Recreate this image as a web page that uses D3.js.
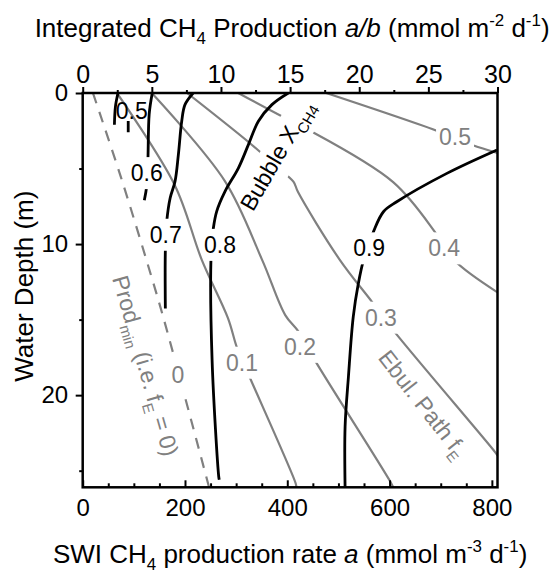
<!DOCTYPE html>
<html>
<head>
<meta charset="utf-8">
<script src="https://cdn.jsdelivr.net/npm/d3@7"></script>
<style>
  body { margin: 0; background: #fff; }
  svg { display: block; font-family: "Liberation Sans", Arial, sans-serif; }
</style>
</head>
<body>
<script>
// Axis domains and tick values
const rateMax = 811;            // SWI production rate axis (mmol m-3 d-1)
const integMax = 30;            // integrated production axis (mmol m-2 d-1)
const depthMax = 26.1;          // water depth (m)
const rateTicks = [0, 200, 400, 600, 800];
const rateMinorTicks = [50, 100, 150, 250, 300, 350, 450, 500, 550, 650, 700, 750];
const integTicks = [0, 5, 10, 15, 20, 25, 30];
const integMinorTicks = [2.5, 7.5, 12.5, 17.5, 22.5, 27.5];
const depthTicks = [0, 10, 20];
const depthMinorTicks = [5, 15, 25];

// Ebullition path fraction f_E contours: [rate a, depth]
const fE0 = [[20, 0], [75, 5.6], [133, 12], [158, 14.9], [240, 25.2], [247, 26.1]];
const fE1 = [[67, 0], [180, 6.1], [233, 11.06], [284, 14.9], [302, 16.9], [325, 18.7], [416, 25.8], [418, 26.1]];
const fE2 = [[135, 0], [278, 5.83], [351, 11.06], [396, 14.7], [422, 15.8], [454, 17.7], [601, 25.7], [607, 26.1]];
const fE3 = [[204, 0], [331, 3.44], [382, 4.97], [412, 5.87], [421, 6.56], [503, 11.06], [566, 13.84], [607, 15.7], [807, 23.8], [811, 24.0]];
const fE4 = [[304, 0], [392, 1.59], [431, 2.25], [607, 5.9], [693, 9.4], [726, 11.06], [811, 13.2]];
const fE5 = [[476, 0], [699, 2.58], [761.5, 3.44], [811, 3.97]];

// Bubble CH4 mole fraction contours: [rate a, depth]
const x05a = [[69, 0], [64, 0.9], [62, 2.1]];
const x05b = [[89, 1.85], [89, 2.6]];
const x06 = [[136, 0], [130, 1.4], [127.5, 4.45], [125, 6.2], [120.5, 7.1]];
const x07 = [[216, 0], [200, 0.77], [193.6, 1.87], [187, 4.09], [180.5, 5.85], [171, 6.95], [164.3, 8.5], [161.6, 10.4], [161.6, 14.26]];
const x08 = [[402, 0], [370, 0.77], [343.5, 1.87], [324, 3.42], [304.4, 4.97], [278.3, 6.51], [262, 7.83], [255.5, 8.94], [251, 10.81], [253, 17.7], [266, 25.4], [267, 25.6]];
const x09 = [[810, 3.77], [712, 5.32], [614, 7.2], [588, 7.86], [568.4, 9.19], [549, 11.06], [539, 12.6], [529, 14.8], [519.5, 18.8], [513, 22.1], [513, 26.1]];

const fELines = [
  { id: "fE0", pts: fE0, dashed: true },
  { id: "fE1", pts: fE1 }, { id: "fE2", pts: fE2 }, { id: "fE3", pts: fE3 },
  { id: "fE4", pts: fE4 }, { id: "fE5", pts: fE5 }
];
const xLines = [
  { id: "x05a", pts: x05a }, { id: "x05b", pts: x05b }, { id: "x06", pts: x06 },
  { id: "x07", pts: x07 }, { id: "x08", pts: x08 }, { id: "x09", pts: x09 }
];

// Contour labels, anchored at [rate a, depth]; "cuts" names the lines broken around the label
const fELabels = [
  { text: "0", at: [186, 18.68], cuts: ["fE0"] },
  { text: "0.1", at: [311.6, 17.85], cuts: ["fE1"] },
  { text: "0.2", at: [425, 16.8], cuts: ["fE2"] },
  { text: "0.3", at: [583, 14.87], cuts: ["fE3"] },
  { text: "0.4", at: [706.7, 10.28], cuts: ["fE4"] },
  { text: "0.5", at: [728, 2.89], cuts: ["fE5"] }
];
const xLabels = [
  { text: "0.5", at: [95.8, 1.16], cuts: [] },
  { text: "0.6", at: [125.2, 5.3], cuts: ["x06"] },
  { text: "0.7", at: [162.5, 9.38], cuts: ["x07"] },
  { text: "0.8", at: [268.6, 10.05], cuts: ["x08"] },
  { text: "0.9", at: [560, 10.28], cuts: ["x09"] }
];

const W = 553, H = 573;
const grey = "#808080";
const tickFont = 24, topTickFont = 25, titleFont = 26, labelFont = 23;

const x = d3.scaleLinear().domain([0, rateMax]).range([82.7, 497.5]);
const xTop = d3.scaleLinear().domain([0, integMax]).range([82.7, 497.5]);
const y = d3.scaleLinear().domain([0, depthMax]).range([93, 487.3]);

const svg = d3.select("body").append("svg").attr("width", W).attr("height", H);
const defs = svg.append("defs");
defs.append("clipPath").attr("id", "plotClip")
  .append("rect").attr("x", x(0)).attr("y", y(0))
  .attr("width", x(rateMax) - x(0)).attr("height", y(depthMax) - y(0));

// Writes a run of plain / subscript / superscript / italic pieces into a text node
function rich(sel, parts, fs) {
  let shift = 0;
  parts.forEach(([t, s]) => {
    const ts = sel.append("tspan").text(t);
    let target = 0;
    if (s === "sub") { target = 0.28 * fs; ts.attr("font-size", 0.65 * fs); }
    if (s === "sup") { target = -0.42 * fs; ts.attr("font-size", 0.65 * fs); }
    if (s === "i") ts.attr("font-style", "italic");
    const dy = target - shift;
    if (dy) ts.attr("dy", dy);
    shift = target;
  });
}

const line = d3.line()
  .x(d => x(d[0])).y(d => y(d[1]))
  .curve(d3.curveCatmullRom.alpha(0.5));

const plot = svg.append("g").attr("clip-path", "url(#plotClip)");
const lineLayer = plot.append("g");
const labelLayer = svg.append("g");

// In-plot labels (drawn first so their boxes can cut gaps into the lines)
const cutBoxes = {}; // line id -> list of {box, transform}
function addCut(ids, node, transform) {
  const b = node.getBBox();
  ids.forEach(id => {
    (cutBoxes[id] = cutBoxes[id] || []).push({ b, transform });
  });
}

function contourLabel(d, colour) {
  const t = labelLayer.append("text")
    .attr("x", x(d.at[0])).attr("y", y(d.at[1]))
    .attr("dy", "0.35em").attr("text-anchor", "middle")
    .attr("font-size", labelFont).attr("fill", colour)
    .text(d.text);
  addCut(d.cuts, t.node(), null);
}
fELabels.forEach(d => contourLabel(d, grey));
xLabels.forEach(d => contourLabel(d, "#000"));

// Rotated descriptive labels
function rotatedLabel(at, angle, parts, colour, cuts) {
  const g = labelLayer.append("g")
    .attr("transform", `translate(${x(at[0])},${y(at[1])}) rotate(${angle})`);
  const t = g.append("text").attr("text-anchor", "middle")
    .attr("font-size", labelFont).attr("fill", colour);
  rich(t, parts, labelFont);
  addCut(cuts, t.node(), g.attr("transform"));
}
rotatedLabel([393, 4.38], -60, [["Bubble X", ""], ["CH", "sub"], ["4", "sub"]], "#000", ["fE3", "fE4"]);
rotatedLabel([107.8, 18.2], 74, [["Prod", ""], ["min", "sub"], [" (i.e. f", ""], ["E", "sub"], [" = 0)", ""]], grey, []);
rotatedLabel([653.3, 20.9], 52, [["Ebul. Path f", ""], ["E", "sub"]], grey, []);

// One mask per line that has label gaps
function maskFor(id) {
  const boxes = cutBoxes[id];
  if (!boxes) return null;
  const m = defs.append("mask").attr("id", "m_" + id).attr("maskUnits", "userSpaceOnUse")
    .attr("x", 0).attr("y", 0).attr("width", W).attr("height", H);
  m.append("rect").attr("width", W).attr("height", H).attr("fill", "#fff");
  boxes.forEach(({ b, transform }) => {
    const pad = 3;
    const r = m.append("rect")
      .attr("x", b.x - pad).attr("y", b.y - pad)
      .attr("width", b.width + 2 * pad).attr("height", b.height + 2 * pad)
      .attr("fill", "#000");
    if (transform) r.attr("transform", transform);
  });
  return "url(#m_" + id + ")";
}

fELines.forEach(l => {
  lineLayer.append("path")
    .attr("d", line(l.pts)).attr("fill", "none")
    .attr("stroke", grey).attr("stroke-width", 2.2)
    .attr("stroke-dasharray", l.dashed ? "11,9" : null)
    .attr("mask", maskFor(l.id));
});
xLines.forEach(l => {
  lineLayer.append("path")
    .attr("d", line(l.pts)).attr("fill", "none")
    .attr("stroke", "#000").attr("stroke-width", 2.8)
    .attr("mask", maskFor(l.id));
});

// Frame
svg.append("rect")
  .attr("x", x(0)).attr("y", y(0))
  .attr("width", x(rateMax) - x(0)).attr("height", y(depthMax) - y(0))
  .attr("fill", "none").attr("stroke", "#000").attr("stroke-width", 2.5);

function styleAxis(g, fs) {
  g.select(".domain").remove();
  g.selectAll(".tick line").attr("stroke", "#000").attr("stroke-width", 2);
  g.selectAll(".tick text").attr("font-size", fs || tickFont).attr("fill", "#000")
    .attr("font-family", "Liberation Sans, Arial, sans-serif");
}

// Bottom axis (ticks inside)
svg.append("g").attr("transform", `translate(0,${y(depthMax)})`)
  .call(d3.axisBottom(x).tickValues(rateTicks).tickSize(-7).tickSizeOuter(0).tickPadding(12).tickFormat(d3.format("d")))
  .call(styleAxis);
svg.append("g").attr("transform", `translate(0,${y(depthMax)})`)
  .call(d3.axisBottom(x).tickValues(rateMinorTicks).tickSize(-4).tickSizeOuter(0).tickFormat(""))
  .call(styleAxis);

// Top axis
svg.append("g").attr("transform", `translate(0,${y(0)})`)
  .call(d3.axisTop(xTop).tickValues(integTicks).tickSize(6).tickSizeOuter(0).tickPadding(4).tickFormat(d3.format("d")))
  .call(styleAxis, topTickFont);
svg.append("g").attr("transform", `translate(0,${y(0)})`)
  .call(d3.axisTop(xTop).tickValues(integMinorTicks).tickSize(3).tickSizeOuter(0).tickFormat(""))
  .call(styleAxis);

// Left axis
svg.append("g").attr("transform", `translate(${x(0)},0)`)
  .call(d3.axisLeft(y).tickValues(depthTicks).tickSize(7).tickSizeOuter(0).tickPadding(7.5).tickFormat(d3.format("d")))
  .call(styleAxis);
svg.append("g").attr("transform", `translate(${x(0)},0)`)
  .call(d3.axisLeft(y).tickValues(depthMinorTicks).tickSize(3.5).tickSizeOuter(0).tickFormat(""))
  .call(styleAxis);

// Axis titles
const cx = (x(0) + x(rateMax)) / 2;
const bottomTitle = svg.append("text").attr("x", cx).attr("y", 563)
  .attr("text-anchor", "middle").attr("font-size", titleFont);
rich(bottomTitle, [["SWI CH", ""], ["4", "sub"], [" production rate ", ""], ["a", "i"],
  [" (mmol m", ""], ["-3", "sup"], [" d", ""], ["-1", "sup"], [")", ""]], titleFont);

const topTitle = svg.append("text").attr("x", cx + 2).attr("y", 37)
  .attr("text-anchor", "middle").attr("font-size", titleFont);
rich(topTitle, [["Integrated CH", ""], ["4", "sub"], [" Production ", ""], ["a/b", "i"],
  [" (mmol m", ""], ["-2", "sup"], [" d", ""], ["-1", "sup"], [")", ""]], titleFont);

svg.append("text")
  .attr("transform", `translate(33,${(y(0) + y(depthMax)) / 2 - 4}) rotate(-90)`)
  .attr("text-anchor", "middle").attr("font-size", titleFont)
  .text("Water Depth (m)");
</script>
</body>
</html>
